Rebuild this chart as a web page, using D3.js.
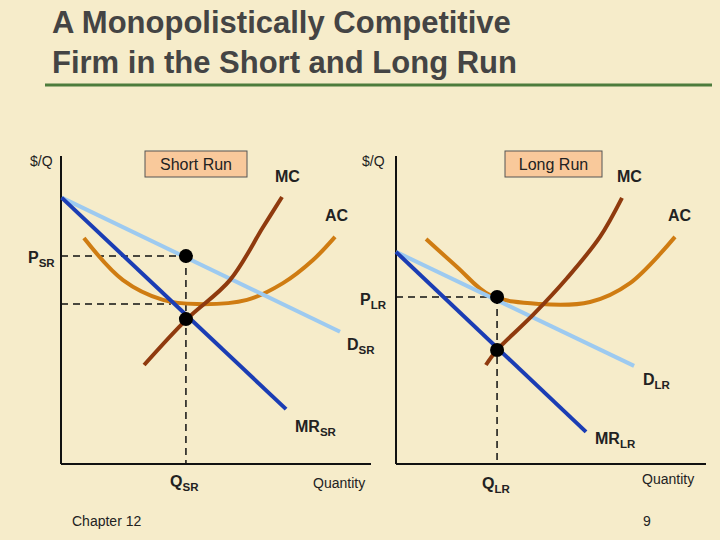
<!DOCTYPE html>
<html><head><meta charset="utf-8">
<script src="https://cdn.jsdelivr.net/npm/d3@7"></script>
<style>body{margin:0;background:#f6ecca}svg{display:block}</style></head>
<body><svg id="c" width="720" height="540"></svg>
<script>
// Short-run curves (quantity units 0-100, $/Q units 0-100)
const srDemand=[[0.2,88.8],[90,44.1]];
const srMR=[[0.2,88.8],[72.6,18.3]];
const srMC=[[26.8,33],[40.6,48.3],[54.5,61.3],[65.2,79],[71.3,89]];
const srAC=[[7.4,75.3],[20,61.3],[32.9,54.7],[43.9,53.3],[60,54.7],[71.6,60.3],[81.3,68],[88.4,75.7]];
const srQ=40.3, srP=69.3, srMCq=48.3, srACq=53.3;
// Long-run curves
const lrDemand=[[0,70.7],[76.8,32.7]];
const lrMR=[[0,70.7],[61.3,10.7]];
const lrMC=[[29,33],[32.6,38],[44.2,49.7],[55.2,62],[65.8,75.7],[72.9,88.7]];
const lrAC=[[9.7,75],[19.7,65.7],[30.3,56.3],[46.5,53.3],[62.6,54],[75.5,60.3],[90,75.7]];
const lrQ=32.6, lrP=55.7, lrMRq=38;

const svg=d3.select("#c");
const C={D:"#9dcaf0",MR:"#1b3db4",MC:"#8f3a0e",AC:"#cf7c12",txt:"#222"};
const font="Arial, Liberation Sans, sans-serif";
function txt(x,y,s,size,sub,weight,anchor){
  const t=svg.append("text").attr("x",x).attr("y",y).attr("font-family",font).attr("font-size",size)
   .attr("fill",C.txt).attr("font-weight",weight||"normal").attr("text-anchor",anchor||"start");
  t.append("tspan").text(s);
  if(sub) t.append("tspan").attr("dy",4).attr("font-size",size*0.72).text(sub);
  return t;
}
// title
txt(52,33,"A Monopolistically Competitive",31,null,"bold").attr("fill","#444");
txt(52,73,"Firm in the Short and Long Run",31,null,"bold").attr("fill","#444");
svg.append("line").attr("x1",45).attr("x2",712).attr("y1",85).attr("y2",85).attr("stroke","#4d7c3c").attr("stroke-width",3);

function panel(x0,Dd,MRd,MCd,ACd,q,p,lowY,lowHoriz){
  const x=d3.scaleLinear().domain([0,100]).range([x0,x0+310]);
  const y=d3.scaleLinear().domain([0,100]).range([464,164]);
  const g=svg.append("g");
  g.append("line").attr("x1",x(0)).attr("x2",x(0)).attr("y1",y(100)-8).attr("y2",y(0)).attr("stroke","#111").attr("stroke-width",2);
  g.append("line").attr("x1",x(0)).attr("x2",x(100)).attr("y1",y(0)).attr("y2",y(0)).attr("stroke","#111").attr("stroke-width",2);
  const line=d3.line().x(d=>x(d[0])).y(d=>y(d[1]));
  const curve=d3.line().x(d=>x(d[0])).y(d=>y(d[1])).curve(d3.curveCatmullRom);
  const dash="7,5";
  g.append("line").attr("x1",x(0)).attr("x2",x(q)).attr("y1",y(p)).attr("y2",y(p)).attr("stroke","#111").attr("stroke-width",1.5).attr("stroke-dasharray",dash);
  if(lowHoriz) g.append("line").attr("x1",x(0)).attr("x2",x(q)-15).attr("y1",y(lowHoriz)).attr("y2",y(lowHoriz)).attr("stroke","#111").attr("stroke-width",1.5).attr("stroke-dasharray",dash);
  g.append("line").attr("x1",x(q)).attr("x2",x(q)).attr("y1",y(p)).attr("y2",y(0)).attr("stroke","#111").attr("stroke-width",1.5).attr("stroke-dasharray",dash);
  g.append("path").attr("d",curve(ACd)).attr("fill","none").attr("stroke",C.AC).attr("stroke-width",4);
  g.append("path").attr("d",line(Dd)).attr("fill","none").attr("stroke",C.D).attr("stroke-width",4);
  g.append("path").attr("d",curve(MCd)).attr("fill","none").attr("stroke",C.MC).attr("stroke-width",4);
  g.append("path").attr("d",line(MRd)).attr("fill","none").attr("stroke",C.MR).attr("stroke-width",4);
  [[q,p],[q,lowY]].forEach(d=>g.append("circle").attr("cx",x(d[0])).attr("cy",y(d[1])).attr("r",7).attr("fill","#000"));
}
panel(61,srDemand,srMR,srMC,srAC,srQ,srP,srMCq,srACq);
panel(396,lrDemand,lrMR,lrMC,lrAC,lrQ,lrP,lrMRq,null);

function box(x,y,w,h,s){
  svg.append("rect").attr("x",x).attr("y",y).attr("width",w).attr("height",h).attr("fill","#f9c99b").attr("stroke","#555").attr("stroke-width",1);
  txt(x+w/2,y+h/2+6,s,16,null,"normal","middle");
}
box(145,151,102,26,"Short Run");
box(505,151,97,26,"Long Run");
txt(30,166,"$/Q",14);
txt(362,166,"$/Q",14);
txt(275,182,"MC",16,null,"bold");
txt(617,182,"MC",16,null,"bold");
txt(325,221,"AC",16,null,"bold");
txt(668,221,"AC",16,null,"bold");
txt(28,263,"P",16,"SR","bold");
txt(360,305,"P",16,"LR","bold");
txt(347,350,"D",16,"SR","bold");
txt(643,385,"D",16,"LR","bold");
txt(295,432,"MR",16,"SR","bold");
txt(595,444,"MR",16,"LR","bold");
txt(170,487,"Q",16,"SR","bold");
txt(313,488,"Quantity",14);
txt(482,489,"Q",16,"LR","bold");
txt(642,484,"Quantity",14);
txt(72,526,"Chapter 12",14);
txt(643,526,"9",14);
</script></body></html>
